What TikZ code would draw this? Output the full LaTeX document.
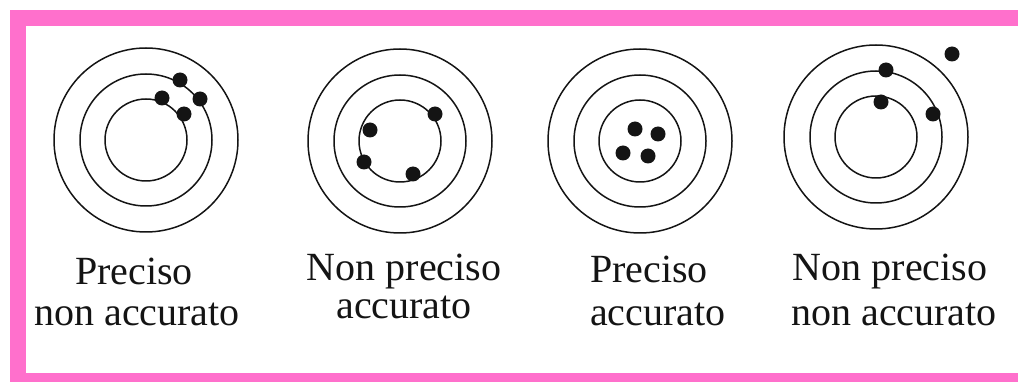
\documentclass[tikz,border=0pt]{standalone}
\usepackage{fontspec}
\setmainfont{Liberation Serif}
\definecolor{framepink}{RGB}{255,112,204}
\definecolor{ink}{RGB}{20,20,20}
\begin{document}
\begin{tikzpicture}[x=1pt,y=-1pt,
  ring/.style={draw=ink,line width=1.5pt},
  shot/.style={circle,fill=ink,inner sep=0pt,minimum size=15pt},
  lbl/.style={inner sep=0pt,anchor=base,font=\fontsize{40}{40}\selectfont,text=ink},
  lbll/.style={inner sep=0pt,anchor=base west,font=\fontsize{40}{40}\selectfont,text=ink}]
\useasboundingbox (0,0) rectangle (1018,382);
% pink frame
\fill[framepink] (10,10) rectangle (1018,26);
\fill[framepink] (10,10) rectangle (26,382);
\fill[framepink] (10,373) rectangle (1018,382);
% targets
\foreach \cx/\cy/\n in {146/140/a,400/141/b,640/141/c,876/137/d}{
  \coordinate (t\n) at (\cx,\cy);
  \draw[ring] (t\n) circle[radius=92];
  \draw[ring] (t\n) circle[radius=66];
  \draw[ring] (t\n) circle[radius=41];
}
% shots: target 1
\node[shot] (a1) at (180,80) {};
\node[shot] (a2) at (162,98) {};
\node[shot] (a3) at (200,99) {};
\node[shot] (a4) at (184,114) {};
% target 2
\node[shot] (b1) at (435,114) {};
\node[shot] (b2) at (370,130) {};
\node[shot] (b3) at (364,162) {};
\node[shot] (b4) at (413,174) {};
% target 3
\node[shot] (c1) at (635,129) {};
\node[shot] (c2) at (658,134) {};
\node[shot] (c3) at (623,153) {};
\node[shot] (c4) at (648,156) {};
% target 4
\node[shot] (d1) at (952,54) {};
\node[shot] (d2) at (886,70) {};
\node[shot] (d3) at (881,102) {};
\node[shot] (d4) at (933,114) {};
% labels
\node[lbl] (l1a) at (134,285) {Preciso};
\node[lbl] (l1b) at (137,325) {non accurato};
\node[lbl] (l2a) at (404,280) {Non preciso};
\node[lbl] (l2b) at (404,318) {accurato};
\node[lbll] (l3a) at (590,283) {Preciso};
\node[lbll] (l3b) at (590,326) {accurato};
\node[lbl] (l4a) at (890,281) {Non preciso};
\node[lbl] (l4b) at (894,325) {non accurato};
\end{tikzpicture}
\end{document}
